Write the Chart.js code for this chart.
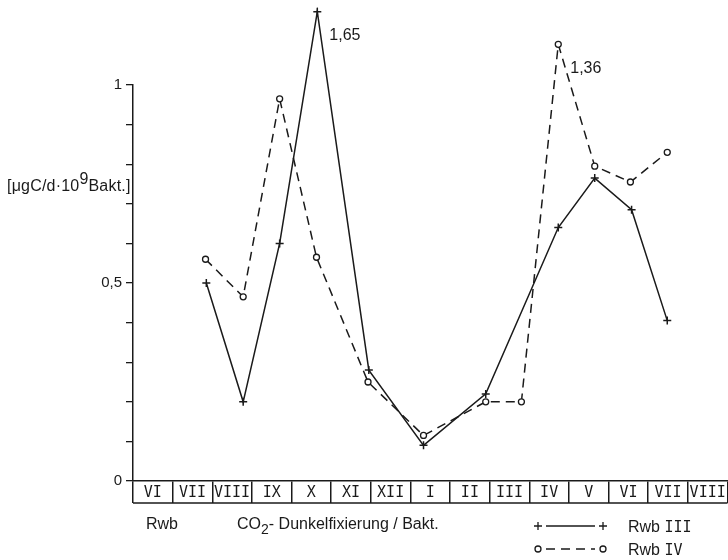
<!DOCTYPE html>
<html>
<head>
<meta charset="utf-8">
<script src="https://cdn.jsdelivr.net/npm/chart.js@4/dist/chart.umd.min.js"></script>
<style>
  html, body { margin: 0; padding: 0; background: #fff; overflow: hidden; }
  body { width: 728px; height: 560px; position: relative; }
  #wrap { position: absolute; left: 0; top: 0; width: 733px; height: 560px; }
  .txt { position: absolute; font-family: "Liberation Sans", Arial, sans-serif; color: #1a1a1a; white-space: nowrap; line-height: 16px; }
  .txt sup { font-size: 16px; vertical-align: 7px; line-height: 0; }
  .txt sub { font-size: 14px; vertical-align: -5px; line-height: 0; }
</style>
</head>
<body>
<div id="wrap"><canvas id="co2Chart"></canvas></div>
<div class="txt" style="left:7px; top:178px; font-size:16px; letter-spacing:0.2px;">[μgC/d·10<sup>9</sup>Bakt.]</div>
<div class="txt" style="left:146px; top:516px; font-size:16px;">Rwb</div>
<div class="txt" style="left:237px; top:516px; font-size:16px;">CO<sub>2</sub>- Dunkelfixierung / Bakt.</div>
<script>
// month boxes under the axis, June to the August of the next year
const MONTHS = ['VI', 'VII', 'VIII', 'IX', 'X', 'XI', 'XII', 'I', 'II', 'III', 'IV', 'V', 'VI', 'VII', 'VIII'];

// sampling dates, in months counted from the start of the first June
const RWB3_MONTH = [1.85, 2.78, 3.7, 4.65, 5.95, 7.33, 8.9, 10.73, 11.65, 12.58, 13.48];
const RWB3_VALUES = [0.50, 0.20, 0.60, 1.65, 0.28, 0.09, 0.22, 0.64, 0.765, 0.685, 0.405];

const RWB4_MONTH = [1.83, 2.78, 3.7, 4.63, 5.93, 7.33, 8.9, 9.8, 10.73, 11.65, 12.55, 13.48];
const RWB4_VALUES = [0.56, 0.465, 0.965, 0.565, 0.25, 0.115, 0.20, 0.20, 1.36, 0.795, 0.755, 0.83];

const SERIES_NAMES = ['Rwb III', 'Rwb IV'];

// values above the top of the axis are squeezed, the axis is broken there
const AXIS_MAX = 1;
const ABOVE_BREAK = 0.285;

const INK = '#1a1a1a';
const SANS = '"Liberation Sans", Arial, sans-serif';
const MONO = '"DejaVu Sans Mono", monospace';

class BrokenScale extends Chart.LinearScale {
  static id = 'broken';
  static defaults = Chart.LinearScale.defaults;
  getPixelForValue(value) {
    const v = value > AXIS_MAX ? AXIS_MAX + (value - AXIS_MAX) * ABOVE_BREAK : value;
    return super.getPixelForValue(v);
  }
}
Chart.register(BrokenScale);

function toPoints(xs, ys) {
  return xs.map((x, i) => ({ x: x, y: ys[i] }));
}

function fmt(v) {
  return String(v).replace('.', ',');
}

// bottom edge of the month boxes, the peaks above the broken axis and the legend
const boxesAndNotes = {
  id: 'boxesAndNotes',
  afterDraw(chart) {
    const ctx = chart.ctx;
    const xm = chart.scales.xm;
    const boxBottom = xm.top + 22;
    ctx.save();
    ctx.strokeStyle = INK;
    ctx.lineWidth = 1.5;
    ctx.beginPath();
    ctx.moveTo(xm.left, boxBottom);
    ctx.lineTo(xm.right, boxBottom);
    ctx.stroke();

    // Chart.js skips points outside the chart area, so the squeezed peaks get drawn here
    chart.data.datasets.forEach((ds, i) => {
      const meta = chart.getDatasetMeta(i);
      ds.data.forEach((p, j) => {
        if (p.y > AXIS_MAX) {
          const el = meta.data[j];
          ctx.strokeStyle = el.options.borderColor;
          ctx.fillStyle = el.options.backgroundColor;
          ctx.lineWidth = el.options.borderWidth;
          Chart.helpers.drawPoint(ctx, el.options, el.x, el.y);
          ctx.fillStyle = INK;
          ctx.font = '16px ' + SANS;
          ctx.textAlign = 'left';
          ctx.textBaseline = 'middle';
          ctx.fillText(fmt(p.y), el.x + 12, el.y + 24);
        }
      });
    });

    // legend in the lower right corner
    const rows = [526, 549];
    const x1 = 538, x2 = 603, tx = 628;
    chart.data.datasets.forEach((ds, i) => {
      const y = rows[i];
      ctx.strokeStyle = INK;
      ctx.lineWidth = ds.borderWidth;
      ctx.setLineDash(ds.borderDash || []);
      ctx.beginPath();
      ctx.moveTo(x1 + 8, y);
      ctx.lineTo(x2 - 8, y);
      ctx.stroke();
      ctx.setLineDash([]);
      const style = { pointStyle: ds.pointStyle, radius: ds.pointRadius, rotation: 0, borderWidth: 1.3 };
      ctx.lineWidth = 1.3;
      ctx.fillStyle = ds.pointBackgroundColor;
      Chart.helpers.drawPoint(ctx, style, x1, y);
      Chart.helpers.drawPoint(ctx, style, x2, y);
      const parts = SERIES_NAMES[i].split(' ');
      ctx.fillStyle = INK;
      ctx.textAlign = 'left';
      ctx.textBaseline = 'alphabetic';
      ctx.font = '16px ' + SANS;
      ctx.fillText(parts[0], tx, y + 6);
      const w = ctx.measureText(parts[0] + ' ').width;
      ctx.font = '15px ' + MONO;
      ctx.fillText(parts[1], tx + w, y + 6);
    });
    ctx.restore();
  }
};

new Chart(document.getElementById('co2Chart'), {
  type: 'line',
  data: {
    datasets: [
      {
        label: SERIES_NAMES[0],
        data: toPoints(RWB3_MONTH, RWB3_VALUES),
        borderColor: INK,
        borderWidth: 1.5,
        pointStyle: 'cross',
        pointRadius: 4,
        pointBorderWidth: 1.5,
        pointBorderColor: INK,
        pointBackgroundColor: INK,
        tension: 0,
        clip: false
      },
      {
        label: SERIES_NAMES[1],
        data: toPoints(RWB4_MONTH, RWB4_VALUES),
        borderColor: INK,
        borderWidth: 1.5,
        borderDash: [9, 6],
        pointStyle: 'circle',
        pointRadius: 3,
        pointBorderWidth: 1.3,
        pointBorderColor: INK,
        pointBackgroundColor: '#fff',
        tension: 0,
        clip: false
      }
    ]
  },
  options: {
    responsive: true,
    maintainAspectRatio: false,
    animation: false,
    layout: { padding: { top: 85, left: 0, right: 0, bottom: 0 } },
    plugins: {
      legend: { display: false },
      tooltip: { enabled: false }
    },
    scales: {
      x: {
        type: 'linear',
        min: 0,
        max: MONTHS.length,
        display: false
      },
      xm: {
        type: 'category',
        labels: MONTHS,
        position: 'bottom',
        offset: true,
        afterFit: (scale) => { scale.height = 79; },
        border: { display: true, color: INK, width: 1.5 },
        grid: {
          offset: true,
          drawOnChartArea: false,
          tickLength: 22,
          color: INK,
          lineWidth: 1.5
        },
        ticks: {
          padding: -19,
          color: INK,
          maxRotation: 0,
          autoSkip: false,
          font: { family: MONO, size: 15 }
        }
      },
      y: {
        type: 'broken',
        min: 0,
        max: AXIS_MAX,
        afterFit: (scale) => { scale.width = 133; },
        border: { display: true, color: INK, width: 1.5 },
        grid: {
          drawOnChartArea: false,
          tickLength: 7,
          color: INK,
          lineWidth: 1.3
        },
        ticks: {
          stepSize: 0.1,
          padding: 4,
          color: INK,
          font: { family: SANS, size: 15 },
          callback: (v) => {
            if (Math.abs(v) < 1e-6) return '0';
            if (Math.abs(v - 0.5) < 1e-6) return '0,5';
            if (Math.abs(v - 1) < 1e-6) return '1';
            return '';
          }
        }
      }
    }
  },
  plugins: [boxesAndNotes]
});
</script>
</body>
</html>
